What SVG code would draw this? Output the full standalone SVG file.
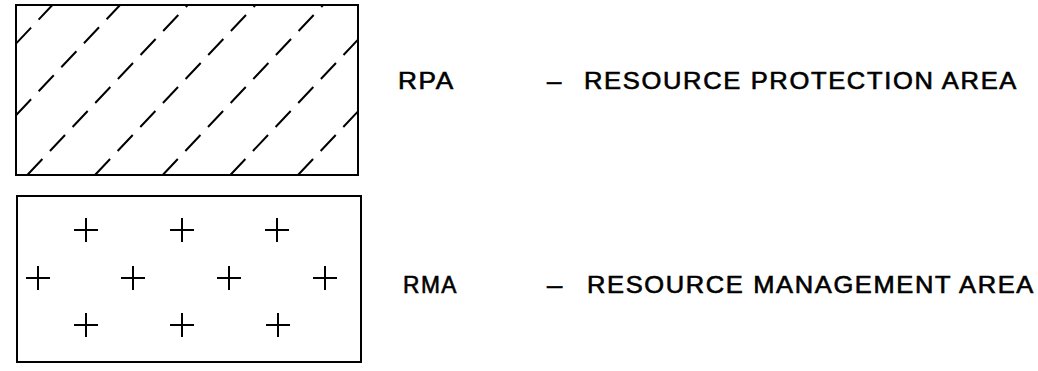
<svg xmlns="http://www.w3.org/2000/svg" xmlns:xlink="http://www.w3.org/1999/xlink" width="1038" height="371" viewBox="0 0 1038 371">
  <style>
    .box { fill: #ffffff; stroke: #000000; stroke-width: 2; }
    .hatch { fill: none; stroke: #000000; stroke-width: 2; stroke-dasharray: 22 11; stroke-linecap: butt; }
    .cross { fill: none; stroke: #000000; stroke-width: 2; }
    .lbl { font-family: "Liberation Sans", Arial, sans-serif; font-size: 23px; letter-spacing: 1.5px; fill: #000000; stroke: #000000; stroke-width: 0.6; }
  </style>
  <defs>
    <path id="cross" class="cross" d="M-12 0H12M0 -12V12"/>
  </defs>
  <rect width="1038" height="371" fill="#ffffff"/>

  <g id="rpa-box">
    <rect class="box" x="16" y="5" width="342" height="170"/>
    <g class="hatch">
      <path d="M16 43.6L52.4 5"/>
      <path d="M16 115.3L120.1 5"/>
      <path d="M27.3 175L187.7 5"/>
      <path d="M95 175L255.4 5"/>
      <path d="M162.7 175L323.1 5"/>
      <path d="M230.3 175L358 39.6"/>
      <path d="M298 175L358 111.4"/>
    </g>
  </g>

  <g id="rma-box">
    <rect class="box" x="17" y="196" width="344" height="166"/>
    <use xlink:href="#cross" x="86" y="230"/>
    <use xlink:href="#cross" x="182" y="230"/>
    <use xlink:href="#cross" x="277" y="230"/>
    <use xlink:href="#cross" x="38" y="278"/>
    <use xlink:href="#cross" x="133" y="278"/>
    <use xlink:href="#cross" x="229" y="278"/>
    <use xlink:href="#cross" x="325" y="278"/>
    <use xlink:href="#cross" x="86" y="325"/>
    <use xlink:href="#cross" x="182" y="325"/>
    <use xlink:href="#cross" x="278" y="325"/>
  </g>

  <g id="rpa-label">
    <text class="lbl" x="398" y="89" textLength="57" lengthAdjust="spacingAndGlyphs">RPA</text>
    <text class="lbl" x="547" y="89" textLength="16" lengthAdjust="spacingAndGlyphs">–</text>
    <text class="lbl" x="584" y="89" textLength="434" lengthAdjust="spacingAndGlyphs">RESOURCE PROTECTION AREA</text>
  </g>

  <g id="rma-label">
    <text class="lbl" x="403" y="293" textLength="55" lengthAdjust="spacingAndGlyphs">RMA</text>
    <text class="lbl" x="547" y="293" textLength="17" lengthAdjust="spacingAndGlyphs">–</text>
    <text class="lbl" x="587" y="293" textLength="448" lengthAdjust="spacingAndGlyphs">RESOURCE MANAGEMENT AREA</text>
  </g>
</svg>
